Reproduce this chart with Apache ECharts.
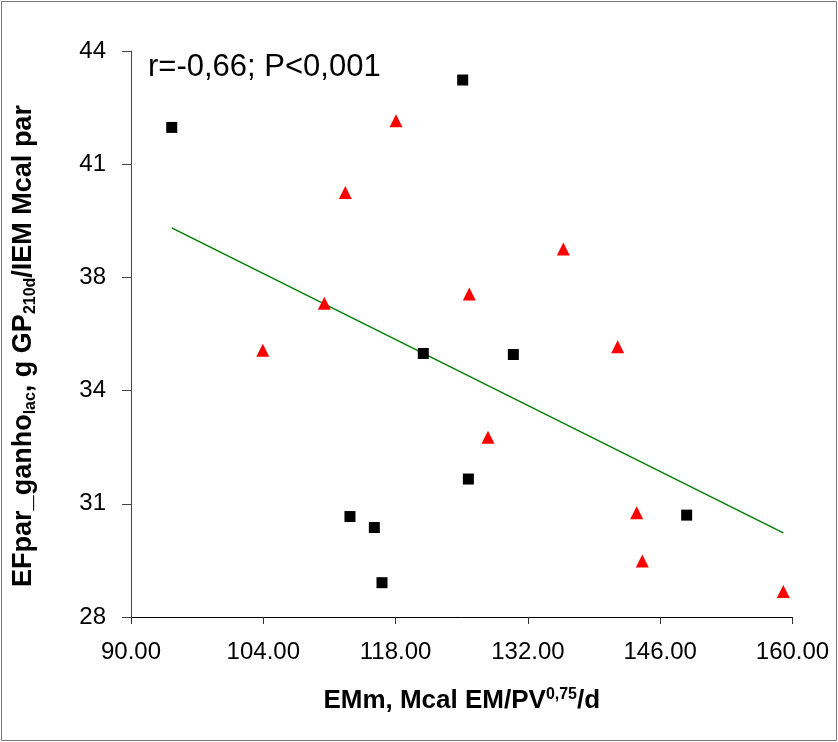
<!DOCTYPE html>
<html>
<head>
<meta charset="utf-8">
<script src="https://cdn.jsdelivr.net/npm/echarts@6/dist/echarts.min.js"></script>
<style>html,body{margin:0;padding:0;background:#fff;}#c{width:838px;height:742px;}</style>
</head>
<body>
<div id="c"></div>
<script>
// Black squares
const squareX = [94.31, 125.10, 120.93, 130.46, 125.70, 113.17, 115.75, 116.56, 148.80];
const squareY = [41.84, 43.18, 35.45, 35.42, 31.90, 30.84, 30.53, 28.97, 30.88];
// Red triangles
const triangleX = [118.04, 112.68, 125.80, 110.46, 135.75, 141.50, 127.78, 143.51, 144.11, 159.03, 103.94];
const triangleY = [42.03, 40.00, 37.13, 36.87, 38.40, 35.64, 33.08, 30.95, 29.58, 28.72, 35.54];
// Regression line end points
const trendX = [94.31, 159.03];
const trendY = [39.00, 30.38];
// Axis ticks
const xTickValues = [90, 104, 118, 132, 146, 160];
const xTickLabels = ['90.00', '104.00', '118.00', '132.00', '146.00', '160.00'];
const yTickValues = [28, 31.2, 34.4, 37.6, 40.8, 44];
const yTickLabels = ['28', '31', '34', '38', '41', '44'];
const annotation = 'r=-0,66; P<0,001';

const zip = (a, b) => a.map((v, i) => [v, b[i]]);
const labelFor = (vals, labels) => (v) => {
  let best = 0;
  for (let i = 0; i < vals.length; i++) if (Math.abs(vals[i] - v) < Math.abs(vals[best] - v)) best = i;
  return labels[best];
};

const chart = echarts.init(document.getElementById('c'), null, {renderer: 'canvas'});
const font = 'Liberation Sans, Arial, sans-serif';
chart.setOption({
  animation: false,
  backgroundColor: '#fff',
  title: {
    text: annotation, left: 143, top: 47,
    textStyle: {fontFamily: font, fontSize: 31, fontWeight: 'normal', color: '#000'}
  },
  grid: {left: 131, right: 45.5, top: 51, bottom: 125},
  xAxis: {
    type: 'value', min: 90, max: 160,
    splitLine: {show: false},
    axisLine: {lineStyle: {color: '#000', width: 1}},
    axisTick: {length: 7, lineStyle: {color: '#333'}, customValues: xTickValues},
    axisLabel: {customValues: xTickValues, formatter: labelFor(xTickValues, xTickLabels), margin: 23,
      fontFamily: font, fontSize: 24, color: '#000'},
    name: '{b|EMm, Mcal EM/PV}{sup|0,75}{b|/d}',
    nameLocation: 'middle', nameGap: 70,
    nameTextStyle: {
      rich: {
        b: {fontFamily: font, fontSize: 26, fontWeight: 'bold', color: '#000', lineHeight: 28},
        sup: {fontFamily: font, fontSize: 16, fontWeight: 'bold', color: '#000', lineHeight: 16, verticalAlign: 'top'}
      }
    }
  },
  yAxis: {
    type: 'value', min: 28, max: 44,
    splitLine: {show: false},
    axisLine: {show: true, lineStyle: {color: '#444', width: 1}},
    axisTick: {show: true, length: 9, lineStyle: {color: '#444'}, customValues: yTickValues},
    axisLabel: {customValues: yTickValues, formatter: labelFor(yTickValues, yTickLabels), margin: 25,
      fontFamily: font, fontSize: 24, color: '#000'},
    name: '{b|EFpar_ganho}{s|lac}{b|, g GP}{s|210d}{b|/IEM Mcal par}',
    nameLocation: 'middle', nameGap: 92, nameRotate: 90,
    nameTextStyle: {
      padding: [0, 24, 0, 0],
      rich: {
        b: {fontFamily: font, fontSize: 27, fontWeight: 'bold', color: '#000', lineHeight: 30},
        s: {fontFamily: font, fontSize: 16, fontWeight: 'bold', color: '#000', lineHeight: 16, verticalAlign: 'bottom'}
      }
    }
  },
  series: [
    {
      type: 'line', data: zip(trendX, trendY), symbol: 'none', silent: true,
      lineStyle: {color: '#008000', width: 1.5}, z: 1
    },
    {
      type: 'scatter', data: zip(squareX, squareY), symbol: 'rect', symbolSize: 11,
      itemStyle: {color: '#000', opacity: 1}, z: 3
    },
    {
      type: 'scatter', data: zip(triangleX, triangleY), symbol: 'triangle', symbolSize: [13, 13],
      itemStyle: {color: '#ff0000', opacity: 1}, z: 3
    }
  ],
  graphic: [{
    type: 'rect', silent: true, z: -1,
    shape: {x: 1.5, y: 1.5, width: 835, height: 739},
    style: {fill: null, stroke: '#777', lineWidth: 1}
  }]
});
</script>
</body>
</html>
